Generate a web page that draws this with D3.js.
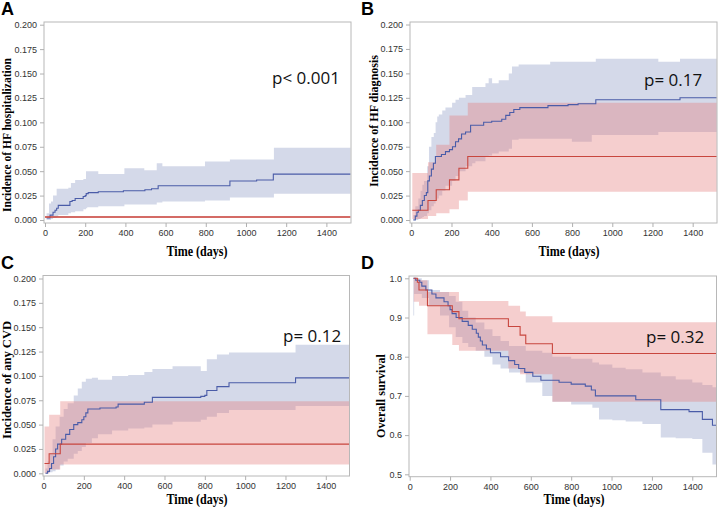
<!DOCTYPE html>
<html><head><meta charset="utf-8">
<script src="https://cdn.jsdelivr.net/npm/d3@7/dist/d3.min.js"></script>
<style>body{margin:0;background:#fff}</style>
</head><body><svg id="c" width="719" height="512"></svg>
<script>
// ---------- tick labels ----------
const xTicks = [0, 200, 400, 600, 800, 1000, 1200, 1400];
const incTicks = [0, 0.025, 0.05, 0.075, 0.1, 0.125, 0.15, 0.175, 0.2];
const survTicks = [0.5, 0.6, 0.7, 0.8, 0.9, 1.0];

// ---------- Panel A: HF hospitalization ----------
const A_blue = [[8,0.002],[25,0.005],[40,0.008],[50,0.010],[58,0.012],[66,0.015],[124,0.019],[135,0.020],[150,0.022],[190,0.024],[200,0.025],[205,0.027],[215,0.028],[265,0.029],[390,0.030],[497,0.031],[530,0.032],[563,0.035],[920,0.040],[1053,0.041],[1136,0.047],[1520,0.047]];
const A_blueBand = [[8,0,0.007],[20,0,0.017],[30,0.001,0.019],[40,0.002,0.025],[58,0.003,0.032],[66,0.005,0.032],[116,0.007,0.033],[129,0.008,0.038],[150,0.009,0.041],[191,0.011,0.042],[204,0.012,0.050],[210,0.013,0.050],[265,0.014,0.047],[395,0.016,0.053],[494,0.016,0.051],[556,0.018,0.058],[584,0.019,0.055],[796,0.020,0.060],[920,0.023,0.062],[1139,0.027,0.074],[1520,0.027,0.074]];
const A_red = [[0,0.003],[1520,0.003]];
const A_redBand = [[0,0.0022,0.0038],[1520,0.0022,0.0038]];

// ---------- Panel B: HF diagnosis ----------
const B_blue = [[10,0.000],[20,0.004],[28,0.008],[35,0.010],[45,0.015],[55,0.020],[65,0.025],[75,0.028],[82,0.040],[90,0.045],[100,0.052],[110,0.058],[120,0.065],[150,0.067],[170,0.070],[190,0.072],[205,0.075],[220,0.080],[235,0.083],[250,0.088],[270,0.090],[295,0.097],[360,0.100],[400,0.101],[450,0.103],[470,0.107],[490,0.110],[510,0.113],[540,0.115],[680,0.117],[780,0.118],[830,0.119],[918,0.123],[1337,0.125],[1520,0.125]];
const B_blueBand = [[10,0,0.005],[20,0,0.014],[35,0.001,0.022],[46,0.002,0.030],[55,0.003,0.036],[63,0.004,0.040],[79,0.007,0.055],[88,0.010,0.075],[100,0.014,0.085],[112,0.017,0.089],[121,0.020,0.100],[129,0.022,0.106],[137,0.025,0.108],[154,0.030,0.112],[170,0.035,0.115],[203,0.040,0.120],[220,0.045,0.123],[237,0.050,0.125],[270,0.055,0.128],[303,0.058,0.136],[319,0.060,0.136],[369,0.065,0.140],[385,0.066,0.145],[402,0.068,0.140],[435,0.070,0.143],[485,0.073,0.150],[501,0.082,0.157],[534,0.083,0.159],[691,0.083,0.162],[799,0.080,0.162],[898,0.087,0.162],[918,0.087,0.165],[1229,0.090,0.162],[1337,0.090,0.165],[1520,0.090,0.165]];
const B_red = [[5,0.010],[83,0.020],[124,0.031],[190,0.041],[237,0.053],[281,0.065],[1520,0.065]];
const B_redBand = [[5,0.001,0.048],[83,0.004,0.059],[124,0.007,0.077],[190,0.011,0.107],[237,0.020,0.107],[281,0.029,0.120],[1520,0.029,0.120]];

// ---------- Panel C: any CVD ----------
const C_blue = [[10,0.000],[20,0.002],[30,0.005],[40,0.010],[50,0.017],[60,0.025],[70,0.030],[90,0.035],[110,0.040],[130,0.045],[150,0.050],[170,0.052],[190,0.055],[200,0.058],[210,0.062],[220,0.066],[280,0.067],[360,0.068],[370,0.071],[500,0.073],[540,0.078],[780,0.079],[800,0.080],[810,0.085],[860,0.089],[920,0.093],[1250,0.098],[1520,0.098]];
const C_blueBand = [[10,0,0.005],[20,0,0.012],[30,0.001,0.020],[45,0.002,0.035],[60,0.004,0.048],[80,0.008,0.058],[100,0.012,0.066],[120,0.015,0.072],[150,0.020,0.080],[170,0.023,0.087],[190,0.027,0.094],[210,0.031,0.097],[240,0.036,0.098],[270,0.040,0.096],[340,0.044,0.100],[420,0.046,0.101],[500,0.047,0.104],[540,0.050,0.107],[640,0.053,0.110],[780,0.055,0.105],[810,0.058,0.117],[860,0.062,0.122],[920,0.065,0.124],[1250,0.069,0.132],[1520,0.069,0.132]];
const C_red = [[5,0.010],[28,0.020],[83,0.030],[1520,0.030]];
const C_redBand = [[5,0.000,0.048],[28,0.004,0.060],[83,0.009,0.074],[1520,0.009,0.074]];

// ---------- Panel D: overall survival ----------
const D_blue = [[18,1.000],[30,0.995],[50,0.99],[60,0.98],[80,0.97],[110,0.96],[130,0.95],[170,0.94],[190,0.93],[200,0.92],[210,0.91],[230,0.90],[260,0.89],[290,0.88],[310,0.87],[330,0.86],[340,0.85],[350,0.84],[360,0.83],[380,0.82],[400,0.81],[450,0.80],[490,0.79],[520,0.78],[540,0.77],[570,0.76],[610,0.75],[650,0.74],[740,0.735],[800,0.73],[870,0.725],[900,0.715],[920,0.70],[1000,0.70],[1120,0.69],[1244,0.665],[1384,0.66],[1450,0.64],[1500,0.625],[1520,0.625]];
const D_blueBand = [[18,0.905,1.0],[22,0.96,1.0],[60,0.95,0.995],[96,0.93,0.97],[150,0.905,0.965],[195,0.875,0.955],[228,0.85,0.94],[261,0.835,0.917],[290,0.825,0.90],[327,0.815,0.887],[370,0.80,0.87],[410,0.78,0.853],[450,0.77,0.84],[492,0.76,0.827],[575,0.734,0.815],[657,0.70,0.81],[707,0.685,0.80],[800,0.678,0.795],[905,0.67,0.785],[938,0.64,0.78],[1004,0.638,0.772],[1070,0.635,0.768],[1153,0.628,0.76],[1244,0.594,0.75],[1318,0.592,0.742],[1400,0.59,0.734],[1450,0.555,0.728],[1500,0.525,0.722],[1520,0.525,0.722]];
const D_red = [[20,1.0],[38,0.99],[46,0.97],[88,0.93],[211,0.915],[244,0.897],[489,0.877],[547,0.855],[575,0.833],[707,0.808],[1520,0.808]];
const D_redBand = [[20,0.94,1.0],[46,0.93,0.995],[88,0.857,0.965],[211,0.83,0.965],[244,0.815,0.942],[489,0.77,0.93],[547,0.755,0.915],[575,0.755,0.903],[707,0.685,0.888],[1520,0.685,0.888]];

const pTexts = ["p< 0.001", "p= 0.17", "p= 0.12", "p= 0.32"];
const yTitles = ["Incidence of HF hospitalization", "Incidence of HF diagnosis", "Incidence of any CVD", "Overall survival"];
const letters = ["A", "B", "C", "D"];

const BLUE_LINE = "#4a5ca8", BLUE_BAND = "#a9b3d3";
const RED_LINE = "#c8463e", RED_BAND = "#e57f7f";

const svg = d3.select("#c");
const f3 = d3.format(".3f"), f1 = d3.format(".1f");

const panels = [
  {fr:[44,22,351,223], xr:[45,350.5], yr:[220,24.7], dom:[0,0.2], ticks:incTicks, fmt:f3,
   blue:A_blue, blueBand:A_blueBand, red:A_red, redBand:A_redBand,
   let:[1,15], yt:[11,135,154], xt:[197,256], p:[272,84]},
  {fr:[410,22,717,223], xr:[411.3,716.8], yr:[220,24.5], dom:[0,0.2], ticks:incTicks, fmt:f3,
   blue:B_blue, blueBand:B_blueBand, red:B_red, redBand:B_redBand,
   let:[361,15], yt:[378,121,132], xt:[569,256], p:[644,86]},
  {fr:[43,275.5,349.5,476], xr:[43.5,350], yr:[473.3,278.5], dom:[0,0.2], ticks:incTicks, fmt:f3,
   blue:C_blue, blueBand:C_blueBand, red:C_red, redBand:C_redBand,
   let:[1,269], yt:[11,380,118], xt:[197,504], p:[283,342]},
  {fr:[409,276,716.5,476.7], xr:[409.7,716.5], yr:[474.3,278.3], dom:[0.5,1.0], ticks:survTicks, fmt:f1,
   blue:D_blue, blueBand:D_blueBand, red:D_red, redBand:D_redBand,
   let:[361,269], yt:[385,396,84], xt:[574,504], p:[646,343]}
];

panels.forEach((P, i) => {
  const g = svg.append("g");
  const x = d3.scaleLinear().domain([0, 1520]).range(P.xr);
  const y = d3.scaleLinear().domain(P.dom).range(P.yr);
  const [fl, ft, frr, fb] = P.fr;

  const cid = "clip" + i;
  svg.append("clipPath").attr("id", cid).append("rect")
    .attr("x", fl).attr("y", ft).attr("width", frr - fl).attr("height", fb - ft);

  const plot = g.append("g").attr("clip-path", `url(#${cid})`);
  const area = d3.area().curve(d3.curveStepAfter).x(d => x(d[0])).y0(d => y(d[1])).y1(d => y(d[2]));
  const line = d3.line().curve(d3.curveStepAfter).x(d => x(d[0])).y(d => y(d[1]));

  plot.append("path").datum(P.blueBand).attr("d", area).attr("fill", BLUE_BAND).attr("fill-opacity", 0.5);
  plot.append("path").datum(P.redBand).attr("d", area).attr("fill", RED_BAND).attr("fill-opacity", 0.38);
  plot.append("path").datum(P.blue).attr("d", line).attr("fill", "none").attr("stroke", BLUE_LINE).attr("stroke-width", 1.1);
  plot.append("path").datum(P.red).attr("d", line).attr("fill", "none").attr("stroke", RED_LINE).attr("stroke-width", i === 0 ? 1.6 : 1.1);

  // frame
  g.append("rect").attr("x", fl).attr("y", ft).attr("width", frr - fl).attr("height", fb - ft)
    .attr("fill", "none").attr("stroke", "#b8b8b8").attr("stroke-width", 1);

  // axes
  const ya = g.append("g").attr("transform", `translate(${fl},0)`)
    .call(d3.axisLeft(y).tickValues(P.ticks).tickFormat(P.fmt).tickSize(4).tickPadding(3));
  const xa = g.append("g").attr("transform", `translate(0,${fb})`)
    .call(d3.axisBottom(x).tickValues(xTicks).tickFormat(d3.format("d")).tickSize(4).tickPadding(3));
  [ya, xa].forEach(a => {
    a.select(".domain").remove();
    a.selectAll("line").attr("stroke", "#b0b0b0");
    a.selectAll("text").attr("fill", "#333").style("font-family", "'Liberation Sans', Arial, sans-serif").style("font-size", "9px");
  });

  // titles
  g.append("text").attr("transform", `translate(${P.yt[0]},${P.yt[1]}) rotate(-90)`)
    .attr("text-anchor", "middle")
    .attr("textLength", P.yt[2]).attr("lengthAdjust", "spacingAndGlyphs")
    .style("font-family", "'Liberation Serif', 'Times New Roman', serif").style("font-weight", "bold").style("font-size", "12px")
    .text(yTitles[i]);
  g.append("text").attr("x", P.xt[0]).attr("y", P.xt[1]).attr("text-anchor", "middle")
    .attr("textLength", 61).attr("lengthAdjust", "spacingAndGlyphs")
    .style("font-family", "'Liberation Serif', 'Times New Roman', serif").style("font-weight", "bold").style("font-size", "14px")
    .text("Time (days)");
  g.append("text").attr("x", P.let[0]).attr("y", P.let[1])
    .style("font-family", "'Liberation Sans', Arial, sans-serif").style("font-weight", "bold").style("font-size", "18px")
    .text(letters[i]);
  g.append("text").attr("x", P.p[0]).attr("y", P.p[1])
    .style("font-family", "'Open Sans', sans-serif").style("font-size", "17px").attr("fill", "#111")
    .text(pTexts[i]);
});
</script>
</body></html>
